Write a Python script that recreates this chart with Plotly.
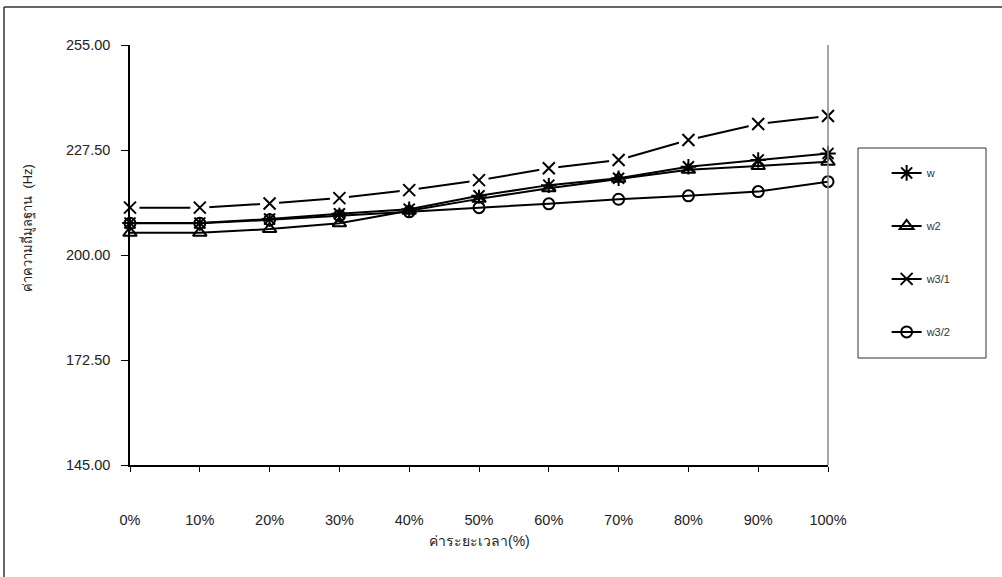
import plotly.graph_objects as go

# Time-ratio categories and tick labels
categories = [0, 1, 2, 3, 4, 5, 6, 7, 8, 9, 10]
tick_labels = ["0%", "10%", "20%", "30%", "40%", "50%", "60%", "70%", "80%", "90%", "100%"]

# Fundamental frequency (Hz) per series
w_vals = [208.4, 208.4, 209.4, 210.8, 212.0, 215.5, 218.3, 220.1, 223.1, 224.9, 226.6]
w2_vals = [205.8, 205.8, 206.8, 208.3, 211.6, 214.7, 217.5, 220.0, 222.3, 223.3, 224.4]
w31_vals = [212.4, 212.4, 213.5, 214.9, 217.0, 219.6, 222.7, 224.9, 230.1, 234.3, 236.4]
w32_vals = [208.3, 208.3, 209.2, 210.3, 211.3, 212.4, 213.4, 214.6, 215.5, 216.6, 219.2]

y_ticks = [145.0, 172.5, 200.0, 227.5, 255.0]

FONT = "Liberation Sans, Arial, DejaVu Sans, sans-serif"
INK = "#000000"

fig = go.Figure()

def add_series(name, values, symbol, size, group, gap_behind=False):
    fig.add_trace(go.Scatter(
        x=categories, y=values, name=name, mode="lines+markers",
        legendgroup=group, cliponaxis=False,
        line=dict(color=INK, width=2),
        marker=dict(symbol=symbol, size=size, color=INK,
                    line=dict(color=INK, width=2)),
    ))
    if gap_behind:
        # white patch behind the marker so the line stops short of it
        fig.add_trace(go.Scatter(
            x=categories, y=values, mode="markers", showlegend=False,
            cliponaxis=False, hoverinfo="skip",
            marker=dict(symbol="square", size=19, color="white",
                        line=dict(width=0)),
        ))
        fig.add_trace(go.Scatter(
            x=categories, y=values, mode="markers", showlegend=False,
            cliponaxis=False, hoverinfo="skip",
            marker=dict(symbol=symbol, size=size, color=INK,
                        line=dict(color=INK, width=2)),
        ))

add_series("w", w_vals, "asterisk-open", 13, "g1")
add_series("w2", w2_vals, "triangle-up-open", 12, "g2")
add_series("w3/1", w31_vals, "x-thin-open", 12, "g3", gap_behind=True)
add_series("w3/2", w32_vals, "circle-open", 11, "g4")

fig.update_layout(
    width=1002, height=577,
    margin=dict(l=130, r=174, t=45, b=112),
    paper_bgcolor="white", plot_bgcolor="white",
    font=dict(family=FONT, size=14, color="#222"),
    showlegend=True,
    legend=dict(
        x=1.084, y=0.73, xanchor="left", yanchor="top",
        bgcolor="rgba(0,0,0,0)", borderwidth=0,
        font=dict(family=FONT, size=11, color="#333"),
        tracegroupgap=34, itemwidth=30,
    ),
    xaxis=dict(
        range=[0, 10], tickvals=categories, ticktext=tick_labels,
        showgrid=False, zeroline=False,
        showline=True, linecolor=INK, linewidth=1.5,
        ticks="outside", ticklen=5, tickcolor=INK,
        ticklabelstandoff=36,
        tickfont=dict(family=FONT, size=14.5, color="#222"),
    ),
    yaxis=dict(
        range=[145, 255], tickvals=y_ticks,
        ticktext=[f"{v:.2f}" for v in y_ticks],
        showgrid=False, zeroline=False,
        showline=True, linecolor=INK, linewidth=1.5,
        ticks="outside", ticklen=7, tickcolor=INK,
        ticklabelstandoff=8,
        tickfont=dict(family=FONT, size=14.5, color="#222"),
    ),
    annotations=[
        dict(text="ค่าระยะเวลา(%)", xref="paper", yref="paper",
             x=0.5, y=-0.181, xanchor="center", yanchor="middle",
             showarrow=False,
             font=dict(family=FONT, size=14, color="#222")),
        dict(text="ค่าความถี่มูลฐาน  (Hz)", xref="paper", yref="paper",
             x=-0.148, y=0.564, xanchor="center", yanchor="middle",
             textangle=-90, showarrow=False,
             font=dict(family=FONT, size=13, color="#222")),
    ],
    shapes=[
        # outer frame of the chart: top and left edges
        dict(type="line", xref="paper", yref="paper",
             x0=-0.1805, x1=1.3, y0=1.0905, y1=1.0905,
             line=dict(color="#333", width=1.5)),
        dict(type="line", xref="paper", yref="paper",
             x0=-0.1805, x1=-0.1805, y0=-0.4, y1=1.0905,
             line=dict(color="#333", width=1.5)),
        # right edge of the plot area
        dict(type="line", xref="paper", yref="paper",
             x0=1.0, x1=1.0, y0=0, y1=1,
             line=dict(color="#888", width=1.5)),
        # legend box
        dict(type="rect", xref="paper", yref="paper",
             x0=(858 - 130) / 698, x1=(986 - 130) / 698,
             y0=(465 - 358) / 420, y1=(465 - 148) / 420,
             line=dict(color="#333", width=1), fillcolor="rgba(0,0,0,0)"),
    ],
)

fig.write_html("out.html")
